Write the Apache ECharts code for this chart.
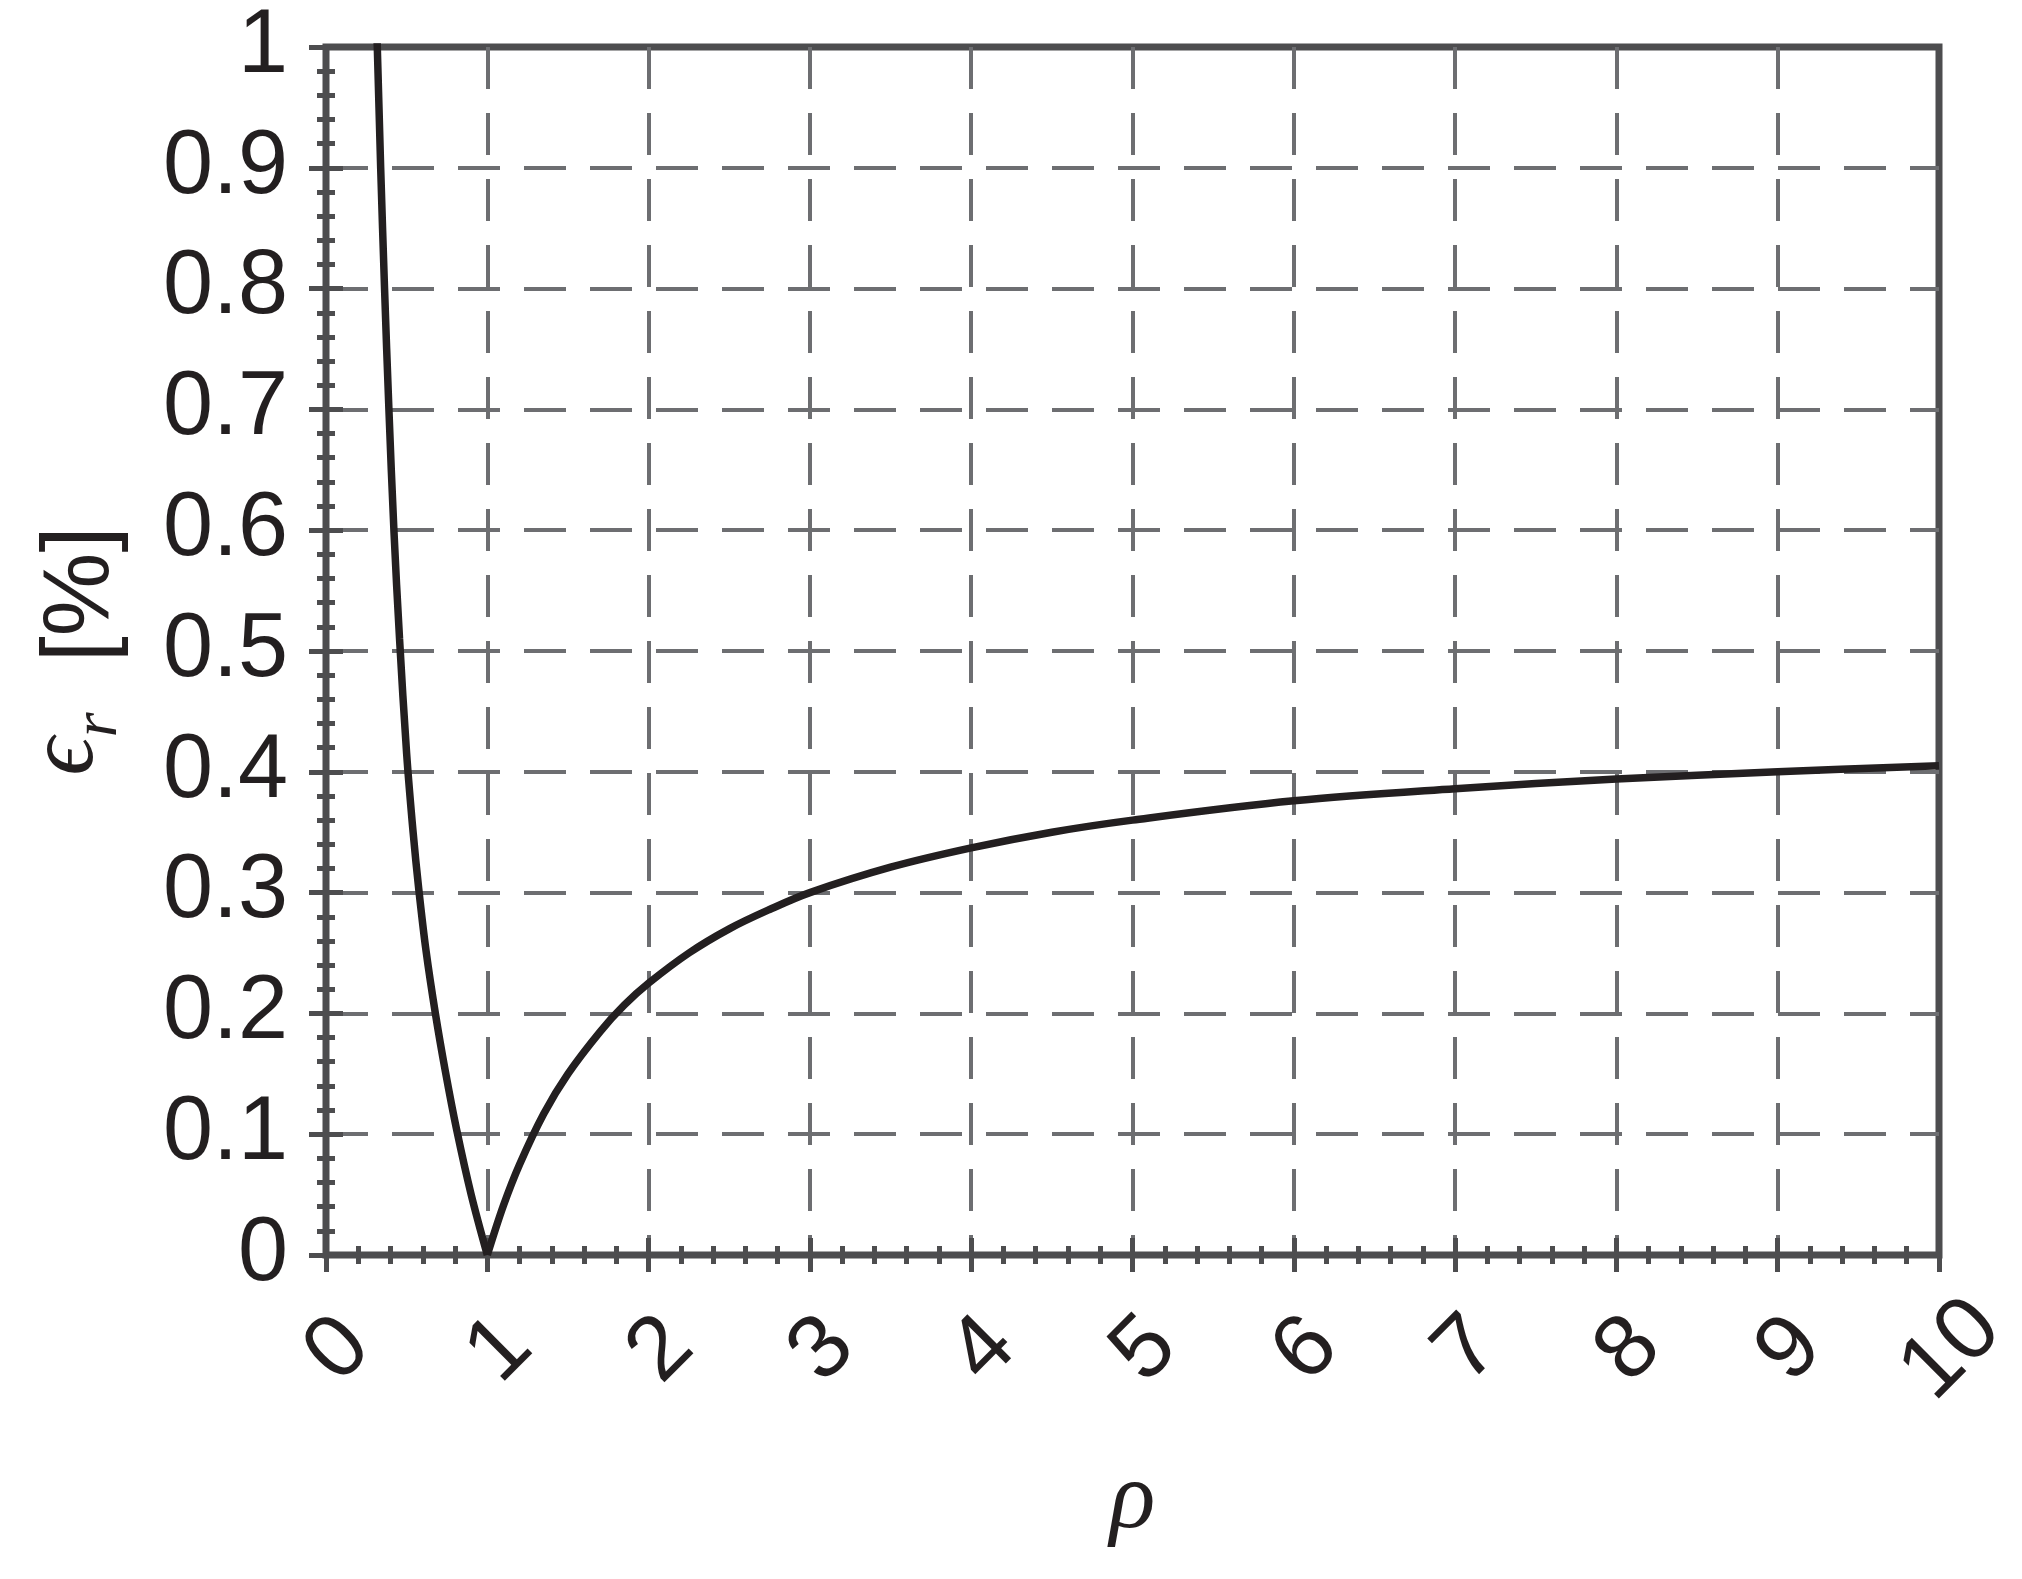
<!DOCTYPE html>
<html>
<head>
<meta charset="utf-8">
<script src="https://cdn.jsdelivr.net/npm/echarts@6/dist/echarts.min.js"></script>
<style>
  html, body { margin: 0; padding: 0; background: #ffffff; }
  #chart { width: 2022px; height: 1579px; }
</style>
</head>
<body>
<div id="chart"></div>
<script>
// values: branch left of the cusp and right of it
var rhoLeft = [0.31, 0.318, 0.339, 0.363, 0.39, 0.421, 0.456, 0.5, 0.54, 0.575, 0.62, 0.678, 0.74, 0.811, 0.9, 1.0];
var epsLeft = [1.03, 1.0, 0.9, 0.8, 0.7, 0.6, 0.51, 0.415, 0.35, 0.303, 0.252, 0.2, 0.152, 0.103, 0.05, 0];
var rhoRight = [1.0, 1.1, 1.2, 1.35, 1.5, 1.7, 1.85, 2, 2.25, 2.5, 2.75, 3, 3.5, 4, 4.5, 5, 6, 7, 8, 9, 10];
var epsRight = [0, 0.041, 0.075, 0.117, 0.15, 0.185, 0.207, 0.225, 0.25, 0.27, 0.286, 0.3, 0.321, 0.337, 0.35, 0.36, 0.376, 0.386, 0.394, 0.4, 0.405];

var frameColor = "#4d4d4f";
var gridColor = "#6d6e71";
var inkColor = "#231f20";
var sansFont = "'Liberation Sans', Arial, sans-serif";
var serifFont = "'Liberation Serif', 'DejaVu Serif', serif";

function pairs(xs, ys) {
  return xs.map(function (x, i) {
    return [x, ys[i]];
  });
}

// ticks point inwards on all four sides
function tickStyle() {
  return {
    axisLine: { show: false },
    axisTick: {
      show: true,
      inside: true,
      length: 17,
      lineStyle: { color: frameColor, width: 5 },
    },
    minorTick: {
      show: true,
      splitNumber: 5,
      length: 9,
      lineStyle: { color: frameColor, width: 5 },
    },
  };
}

var dashed = {
  show: true,
  showMinLine: false,
  showMaxLine: false,
  lineStyle: { color: gridColor, width: 4, type: [42, 24] },
};

var xMain = Object.assign(tickStyle(), {
  type: "value",
  position: "bottom",
  min: 0,
  max: 10,
  interval: 1,
  name: "ρ",
  nameLocation: "middle",
  nameGap: 200,
  nameTextStyle: {
    fontSize: 95,
    fontStyle: "italic",
    fontFamily: serifFont,
    color: inkColor,
  },
  axisLabel: {
    show: true,
    rotate: 45,
    align: "center",
    verticalAlign: "middle",
    margin: 108,
    padding: [36, 0, 0, 36],
    fontSize: 90,
    fontFamily: sansFont,
    color: inkColor,
    showMinLabel: true,
    showMaxLabel: true,
  },
  splitLine: dashed,
});

var xTop = Object.assign(tickStyle(), {
  type: "value",
  position: "top",
  min: 0,
  max: 10,
  interval: 1,
  axisLabel: { show: false },
  splitLine: { show: false },
});

var yMain = Object.assign(tickStyle(), {
  type: "value",
  position: "left",
  min: 0,
  max: 1,
  interval: 0.1,
  name: "{e|ϵ}{r|r}{s| }{b|[%]}",
  nameLocation: "middle",
  nameGap: 195,
  nameTextStyle: {
    color: inkColor,
    rich: {
      e: {
        fontSize: 95,
        fontStyle: "italic",
        fontFamily: serifFont,
        color: inkColor,
        verticalAlign: "bottom",
        padding: [0, 0, 16, 0],
      },
      r: {
        fontSize: 64,
        fontStyle: "italic",
        fontFamily: serifFont,
        color: inkColor,
        verticalAlign: "bottom",
      },
      s: { width: 50 },
      b: {
        fontSize: 94,
        fontFamily: sansFont,
        color: inkColor,
        verticalAlign: "bottom",
        padding: [0, 0, 2, 0],
      },
    },
  },
  axisLabel: {
    show: true,
    margin: 38,
    padding: [12, 0, 0, 0],
    fontSize: 90,
    fontFamily: sansFont,
    color: inkColor,
    showMinLabel: true,
    showMaxLabel: true,
  },
  splitLine: dashed,
});

var yRight = Object.assign(tickStyle(), {
  type: "value",
  position: "right",
  min: 0,
  max: 1,
  interval: 0.1,
  axisLabel: { show: false },
  splitLine: { show: false },
});

var option = {
  animation: false,
  backgroundColor: "#ffffff",
  grid: {
    left: 326,
    right: 83,
    top: 47,
    bottom: 324,
    containLabel: false,
    outerBoundsMode: "none",
    show: true,
    borderColor: frameColor,
    borderWidth: 7,
    backgroundColor: "transparent",
  },
  xAxis: [xMain, xTop],
  yAxis: [yMain, yRight],
  series: [
    {
      type: "line",
      data: pairs(rhoLeft, epsLeft),
      showSymbol: false,
      symbol: "none",
      smooth: 0.35,
      clip: true,
      lineStyle: { color: inkColor, width: 7.5 },
    },
    {
      type: "line",
      data: pairs(rhoRight, epsRight),
      showSymbol: false,
      symbol: "none",
      smooth: 0.35,
      clip: true,
      lineStyle: { color: inkColor, width: 7.5 },
    },
  ],
};

var chart = echarts.init(document.getElementById("chart"));
chart.setOption(option);
window.addEventListener("resize", function () {
  chart.resize();
});
</script>
</body>
</html>
